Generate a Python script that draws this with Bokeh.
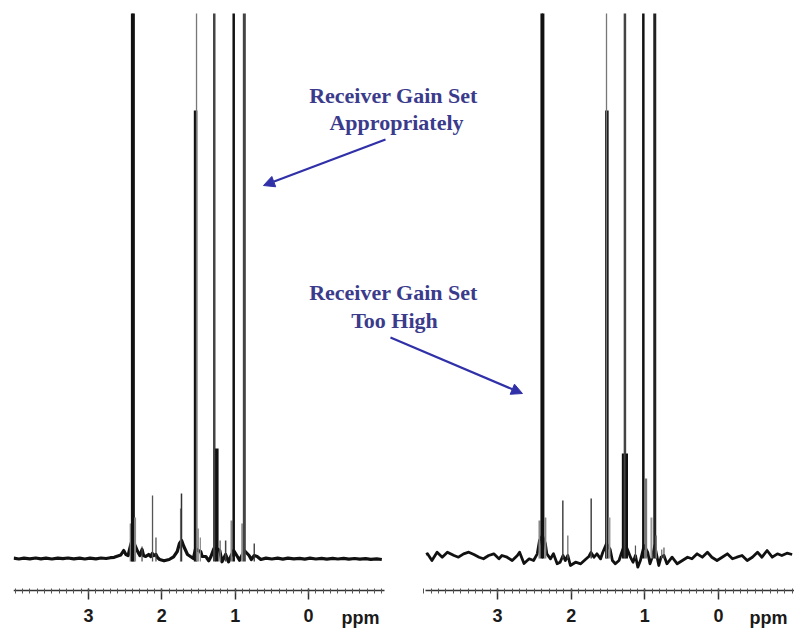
from bokeh.plotting import figure
from bokeh.models import (Range1d, LinearAxis, FixedTicker, Label, Arrow,
                          NormalHead, ColumnDataSource)
from bokeh.embed import file_html
from bokeh.resources import INLINE

# ---------------- data (ppm, intensity above baseline) ----------------
# Left spectrum: receiver gain set appropriately
left_base_ppm = [4.02, 3.95, 3.88, 3.80, 3.72, 3.65, 3.58, 3.50, 3.42, 3.35, 3.28, 3.20,
                 3.12, 3.05, 2.98, 2.90, 2.83, 2.76, 2.70, 2.65, 2.61, 2.56, 2.52, 2.49,
                 2.46, 2.43, 2.40, 2.37, 2.33, 2.30, 2.27, 2.25, 2.22, 2.18, 2.15, 2.13,
                 2.11, 2.08, 2.06, 2.03, 1.97, 1.90, 1.84, 1.79, 1.76, 1.73, 1.70, 1.65,
                 1.61, 1.57, 1.54, 1.51, 1.47, 1.45, 1.40, 1.36, 1.33, 1.29, 1.25, 1.21,
                 1.18, 1.13, 1.09, 1.06, 1.02, 0.97, 0.94, 0.875, 0.81, 0.78, 0.74, 0.70,
                 0.65, 0.58, 0.50, 0.42, 0.35, 0.28, 0.20, 0.12, 0.05, -0.02, -0.10, -0.18,
                 -0.25, -0.33, -0.40, -0.48, -0.55, -0.63, -0.70, -0.78, -0.85, -0.93, -1.00]
left_base_val = [0.3, -0.5, 0.4, -0.3, 0.5, -0.4, 0.3, -0.5, 0.4, -0.2, 0.5, -0.4,
                 0.3, -0.5, 0.4, -0.3, 0.5, 0.0, 0.8, 1.2, 2.3, 3.5, 8, 4,
                 3, 12, 20, 14, 7, 3, 9, 3, 2, 4, 2, 5,
                 3, 4, 1, -1, -2.3, -1, 1.7, 7, 15, 18, 12, 4,
                 2, 0, 10, 8, 7, 2, 2, -2.3, 2, 10, 10, 8,
                 -3.3, 4, -3.3, 2, 8, 2, -1.7, 8, 3, -1, 3, 2,
                 -1, 0.4, -0.5, 0.3, -0.6, 0.4, -0.4, 0.2, -0.6, 0.3, -0.5, 0.2,
                 -0.7, 0.1, -0.5, 0.2, -0.6, 0.0, -0.7, -0.2, -0.8, -0.3, -1.0]
left_peak_ppm = [2.425, 2.405, 2.385, 2.365, 2.27, 2.127, 2.08, 1.745, 1.732, 1.54,
                 1.527, 1.505, 1.475, 1.285, 1.25, 1.205, 1.13, 1.05, 1.02, 0.905,
                 0.875, 0.74]
left_peak_height = [35, 3000, 3000, 41, 12, 63, 21, 50, 65, 448,
                    3000, 30, 21, 3000, 110, 18, 18, 38, 3000, 35,
                    3000, 15]

# Right spectrum: receiver gain set too high
right_base_ppm = [3.97, 3.95, 3.89, 3.82, 3.75, 3.68, 3.59, 3.53, 3.46, 3.39, 3.32, 3.25,
                  3.19, 3.12, 3.05, 2.98, 2.94, 2.87, 2.80, 2.73, 2.70, 2.64, 2.57, 2.51,
                  2.46, 2.43, 2.39, 2.35, 2.33, 2.28, 2.24, 2.19, 2.15, 2.11, 2.08, 2.045,
                  2.01, 1.94, 1.87, 1.81, 1.76, 1.73, 1.69, 1.65, 1.60, 1.57, 1.52, 1.47,
                  1.44, 1.40, 1.35, 1.32, 1.27, 1.23, 1.195, 1.16, 1.127, 1.095, 1.06, 1.01,
                  0.96, 0.93, 0.90, 0.865, 0.81, 0.78, 0.74, 0.70, 0.63, 0.56, 0.49, 0.42,
                  0.36, 0.29, 0.22, 0.15, 0.09, 0.02, -0.05, -0.12, -0.19, -0.25, -0.32, -0.39,
                  -0.46, -0.53, -0.59, -0.66, -0.73, -0.80, -0.86, -0.93, -1.00]
right_base_val = [1.0, 1.7, -5, 3.3, -1.7, 3.3, 0, -1.7, 1.7, 3.3, 1, -1.7,
                  -3.3, 0, 1.7, -3.3, 0, -1.7, -5, 0, 3.3, -8, -3.3, -5,
                  1.7, 15, 20, 12, 1.7, -3.3, 1.7, -8.3, -6.7, 0, -5, 0,
                  -10, -6.7, -8.3, -4.3, -1, 3, -1.7, 1.7, -3.3, 3.3, 12, 6,
                  -5, -8.3, -5, 1.7, 12, 5, -1.7, -6.7, 0, -11.7, -5, 10,
                  3, -8.3, -1.7, 10, -10, -1.7, 0, -8.3, -1.7, -8.3, -5, -1.7,
                  -3.3, 1.7, -1.7, 3.3, -1.7, -5, -1.7, 1.7, -3.3, -1.7, 0, -5,
                  -1.7, 3.3, -1.7, 5, -1.7, 1.7, 0, 2.3, 1.0]
right_peak_ppm = [2.43, 2.40, 2.38, 2.35, 2.113, 2.045, 1.728, 1.515, 1.52, 1.48,
                  1.295, 1.27, 1.245, 1.127, 1.02, 0.985, 0.91, 0.865, 0.845, 0.77, 0.74]
right_peak_height = [35, 3000, 3000, 38, 55, 20, 57, 445, 3000, 38,
                     102, 3000, 102, 10, 3000, 77, 38, 3000, 20, 6, 8]

tick_values = [0, 1, 2, 3]
tick_minor = [round(-1.0 + 0.1 * i, 1) for i in range(51)]

label_top = "Receiver Gain Set"
label_good = "Appropriately"
label_bad = "Too High"
unit_label = "ppm"

# ---------------- styles (kept apart from data) ----------------
left_peak_w = [2, 2.5, 2.5, 2, 1.2, 1.3, 1.2, 1.2, 1.5, 3.5,
               1.3, 1.5, 1.2, 2.5, 3.5, 1.5, 1.5, 2, 2.5, 2,
               3, 1.3]
left_peak_c = ["#888", "#111", "#111", "#888", "#444", "#555", "#444", "#777", "#333", "#111",
               "#777", "#888", "#888", "#444", "#111", "#777", "#444", "#888", "#111", "#999",
               "#444", "#333"]
right_peak_w = [2, 2.5, 2.5, 2, 1.5, 1.2, 1.5, 3.5, 1.3, 2,
                2.5, 2.5, 2.5, 1.2, 2.5, 2.5, 2, 3, 1.5, 1.2, 1.2]
right_peak_c = ["#888", "#111", "#111", "#888", "#444", "#666", "#444", "#111", "#777", "#999",
                "#111", "#444", "#111", "#555", "#111", "#777", "#999", "#222", "#777", "#666", "#555"]

TXT = "#3b3b8c"
ARR = "#3030a8"
INK = "#111111"

p = figure(width=794, height=629, output_backend="svg", toolbar_location=None,
           x_range=Range1d(4.023, -6.628), y_range=Range1d(-71, 545),
           x_axis_type=None, y_axis_type=None,
           min_border_left=13, min_border_right=0, min_border_top=13, min_border_bottom=0)
p.extra_x_ranges = {"right": Range1d(9.570, -1.032)}
p.extra_y_ranges = {"right_y": Range1d(-74, 542)}
p.outline_line_color = None
p.background_fill_color = "white"
p.border_fill_color = "white"

# spectra
p.line(left_base_ppm, left_base_val, line_color=INK, line_width=3.2, line_join="round")
p.line(right_base_ppm, right_base_val, line_color=INK, line_width=2.8, line_join="round",
       x_range_name="right", y_range_name="right_y")

lsrc = ColumnDataSource(dict(x=left_peak_ppm, y0=[-3] * len(left_peak_ppm),
                             y1=left_peak_height, w=left_peak_w, c=left_peak_c))
rsrc = ColumnDataSource(dict(x=right_peak_ppm, y0=[-3] * len(right_peak_ppm),
                             y1=right_peak_height, w=right_peak_w, c=right_peak_c))
p.segment(x0="x", y0="y0", x1="x", y1="y1", line_width="w", line_color="c", source=lsrc)
p.segment(x0="x", y0="y0", x1="x", y1="y1", line_width="w", line_color="c", source=rsrc,
          x_range_name="right", y_range_name="right_y")

# axes (ruler style, drawn at a fixed location below the baselines)
def make_axis(range_name, bounds):
    ax = LinearAxis(x_range_name=range_name, fixed_location=-32, bounds=bounds,
                    ticker=FixedTicker(ticks=tick_values, minor_ticks=tick_minor))
    ax.axis_line_color = "#333"
    ax.axis_line_width = 1.5
    ax.major_tick_in = 2
    ax.major_tick_out = 9
    ax.major_tick_line_color = "#333"
    ax.major_tick_line_width = 1.5
    ax.minor_tick_in = 2
    ax.minor_tick_out = 3
    ax.minor_tick_line_color = "#555"
    ax.major_label_standoff = 9
    ax.major_label_text_font = "Liberation Sans"
    ax.major_label_text_font_style = "bold"
    ax.major_label_text_font_size = "18px"
    ax.major_label_text_color = "#1a1a1a"
    return ax

p.add_layout(make_axis("default", (-1.03, 4.02)), "below")
p.add_layout(make_axis("right", (-1.03, 3.977)), "below")

for rn, xx in (("default", -0.71), ("right", -0.68)):
    p.add_layout(Label(x=xx, y=-59, text=unit_label, x_range_name=rn,
                       text_font="Liberation Sans", text_font_style="bold",
                       text_font_size="18px", text_color="#1a1a1a",
                       text_align="center", text_baseline="middle"))

# annotations
def note(x, y, t):
    p.add_layout(Label(x=x, y=y, text=t, text_font="Liberation Serif",
                       text_font_style="bold", text_font_size="22px", text_color=TXT,
                       text_align="center", text_baseline="middle"))

note(-1.159, 463, label_top)
note(-1.20, 436, label_good)
note(-1.159, 266, label_top)
note(-1.173, 238, label_bad)

p.add_layout(Arrow(end=NormalHead(size=11, fill_color=ARR, line_color=ARR),
                   x_start=-1.05, y_start=419, x_end=0.614, y_end=373,
                   line_color=ARR, line_width=2.2))
p.add_layout(Arrow(end=NormalHead(size=11, fill_color=ARR, line_color=ARR),
                   x_start=-1.118, y_start=221, x_end=-2.918, y_end=165,
                   line_color=ARR, line_width=2.2))

open("out.html", "w").write(file_html(p, INLINE))
